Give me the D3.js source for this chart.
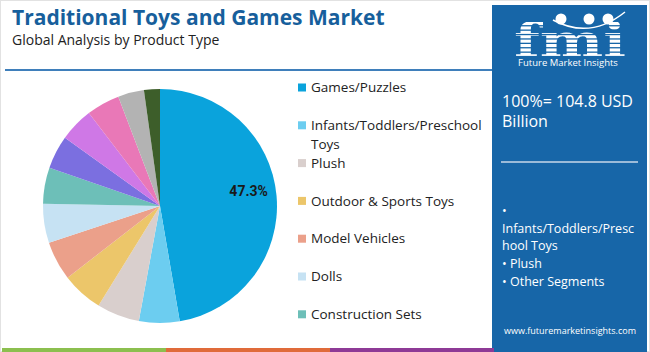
<!DOCTYPE html>
<html>
<head>
    <script src="https://cdn.jsdelivr.net/npm/d3@7"></script>
    <style>
        body {
            margin: 0;
            background-color: white;
        }

        svg {
            display: block;
            font-family: "Open Sans", sans-serif;
        }

        .title {
            font-size: 21px;
            font-weight: bold;
            fill: #175f9c;
        }

        .subtitle {
            font-size: 14px;
            fill: #222;
        }

        .legend text {
            font-size: 13.5px;
            fill: #222;
        }

        .panel text {
            fill: white;
        }
    </style>
</head>
<body>
    <div id="chart"></div>
    <script>
        const categories = ['Games/Puzzles', 'Infants/Toddlers/Preschool Toys', 'Plush', 'Outdoor & Sports Toys',
            'Model Vehicles', 'Dolls', 'Construction Sets', 'Action Figures', 'Arts & Crafts',
            'Educational Toys', 'Ride-Ons', 'Others']
        const shares = [47.3, 5.6, 5.9, 5.7, 5.4, 5.4, 5.0, 4.6, 4.7, 4.6, 3.6, 2.2]
        const palette = ['#0aa3dc', '#6ccdf0', '#d9cfcd', '#ecc66a', '#eba08a', '#c6e2f3', '#6dbfb8',
            '#7b6fe0', '#cf78e6', '#e978b7', '#b3b3b3', '#3d5e2a']
        const totalLines = ['100%= 104.8 USD', 'Billion']
        const topSegments = ['Infants/Toddlers/Preschool Toys', 'Plush', 'Other Segments']

        const w = 650
        const h = 352
        const radius = 117
        const cx = 160
        const cy = 206
        const legendBottom = 334

        const svg = d3.select('#chart')
            .append('svg')
            .attr('width', w)
            .attr('height', h)

        // frame
        svg.append('rect')
            .attr('x', 0.5).attr('y', 0.5)
            .attr('width', w - 1).attr('height', h - 1)
            .attr('fill', 'white')
            .attr('stroke', '#e2e2e2')

        svg.append('text')
            .attr('class', 'title')
            .attr('x', 12).attr('y', 24.5)
            .text('Traditional Toys and Games Market')
        svg.append('text')
            .attr('class', 'subtitle')
            .attr('x', 12).attr('y', 45)
            .text('Global Analysis by Product Type')

        svg.append('line')
            .attr('x1', 5).attr('x2', 492)
            .attr('y1', 70).attr('y2', 70)
            .attr('stroke', '#3f7fbb')
            .attr('stroke-width', 2)

        // pie
        const data = categories.map((c, i) => ({ name: c, value: shares[i] }))
        const color = d3.scaleOrdinal().domain(categories).range(palette)
        const pie = d3.pie().value(d => d.value).sort(null)
        const arc = d3.arc().innerRadius(0).outerRadius(radius)
        const labelArc = d3.arc().innerRadius(radius * 0.76).outerRadius(radius * 0.76)
        const arcs = pie(data)

        const g = svg.append('g')
            .attr('transform', `translate(${cx}, ${cy})`)
        g.selectAll('path')
            .data(arcs)
            .enter()
            .append('path')
            .attr('d', arc)
            .attr('fill', d => color(d.data.name))

        g.selectAll('text')
            .data(arcs.filter(d => d.data.value > 20))
            .enter()
            .append('text')
            .attr('transform', d => {
                const c = labelArc.centroid(d)
                return `translate(${c[0]}, ${c[1] - 7})`
            })
            .attr('text-anchor', 'middle')
            .attr('dy', '0.35em')
            .style('font-family', 'Roboto, sans-serif')
            .style('font-weight', 'bold')
            .style('font-size', '14px')
            .attr('fill', '#1a1a1a')
            .text(d => d.data.value.toFixed(1) + '%')

        // legend: only the entries that fit above the bottom, as in the original
        const step = 37.8
        const shown = categories.filter((d, i) => 87.5 + i * step < legendBottom)
        const legend = svg.append('g')
            .attr('class', 'legend')
        const items = legend.selectAll('g')
            .data(shown)
            .enter()
            .append('g')
            .attr('transform', (d, i) => `translate(298, ${87.5 + i * step})`)
        items.append('rect')
            .attr('x', 0).attr('y', -4)
            .attr('width', 8).attr('height', 8)
            .attr('fill', d => color(d))
        items.append('text')
            .attr('x', 13)
            .attr('dy', '0.35em')
            .each(function (d) { wrap(d3.select(this), d, 178, 19) })

        // right panel
        const panelColor = '#1766a8'
        const panel = svg.append('g').attr('class', 'panel')
        panel.append('rect')
            .attr('x', 492).attr('y', 5)
            .attr('width', 155).attr('height', h - 5)
            .attr('fill', panelColor)

        // fmi logo: white stripes cut out by the letter shapes
        const logoClip = svg.append('clipPath').attr('id', 'logoclip')
        logoClip.append('text')
            .attr('x', 514).attr('y', 57)
            .attr('textLength', 112)
            .attr('lengthAdjust', 'spacingAndGlyphs')
            .style('font-family', '"DejaVu Serif", serif')
            .style('font-weight', 'bold')
            .style('font-size', '46px')
            .text('fmi')
        const stripes = panel.append('g').attr('clip-path', 'url(#logoclip)')
        for (let y = 22; y < 58; y += 4.4) {
            stripes.append('rect')
                .attr('x', 510).attr('y', y)
                .attr('width', 120).attr('height', 3.1)
                .attr('fill', 'white')
        }
        panel.selectAll('circle.globe')
            .data([561, 589, 608])
            .enter()
            .append('circle')
            .attr('class', 'globe')
            .attr('cx', d => d).attr('cy', 19)
            .attr('r', 5.5)
            .attr('fill', 'white')
        panel.append('path')
            .attr('d', 'M553,20 Q590,40 625,12')
            .attr('fill', 'none')
            .attr('stroke', 'white')
            .attr('stroke-width', 1.5)
        panel.append('text')
            .attr('x', 568).attr('y', 66)
            .attr('text-anchor', 'middle')
            .style('font-size', '9.5px')
            .text('Future Market Insights')

        const total = panel.append('text')
            .attr('x', 502).attr('y', 107)
            .style('font-size', '16px')
        totalLines.forEach((l, i) => {
            total.append('tspan').attr('x', 502).attr('dy', i === 0 ? 0 : 20).text(l)
        })

        panel.append('line')
            .attr('x1', 501).attr('x2', 638)
            .attr('y1', 162).attr('y2', 162)
            .attr('stroke', '#c9d9ea')
            .attr('stroke-width', 1.5)

        const seg = panel.append('text')
            .attr('x', 502).attr('y', 215)
            .style('font-size', '12.5px')
        let lines = []
        topSegments.forEach(s => { lines = lines.concat(charWrap(seg, '• ' + s, 137)) })
        seg.text(null)
        lines.forEach((l, i) => {
            seg.append('tspan').attr('x', 502).attr('dy', i === 0 ? 0 : 17.7).text(l)
        })

        panel.append('text')
            .attr('x', 570).attr('y', 334)
            .attr('text-anchor', 'middle')
            .style('font-size', '9px')
            .text('www.futuremarketinsights.com')

        // bottom strip
        const strip = ['#8cbf4f', '#e06b3a', '#8e3a96']
        strip.forEach((c, i) => {
            svg.append('rect')
                .attr('x', 2 + i * 164).attr('y', 348)
                .attr('width', 164).attr('height', 4)
                .attr('fill', c)
        })

        function wrap(text, str, width, lh) {
            const words = str.split(' ')
            let line = []
            let tspan = text.append('tspan').attr('x', 13)
            words.forEach(wd => {
                line.push(wd)
                tspan.text(line.join(' '))
                if (tspan.node().getComputedTextLength() > width && line.length > 1) {
                    line.pop()
                    tspan.text(line.join(' '))
                    line = [wd]
                    tspan = text.append('tspan').attr('x', 13).attr('dy', lh).text(wd)
                }
            })
        }

        // greedy word wrap, breaking over-long words by character
        function charWrap(text, str, width) {
            const measure = s => { text.text(s); return text.node().getComputedTextLength() }
            const words = str.split(' ')
            const out = []
            let cur = ''
            words.forEach(wd => {
                const trial = cur ? cur + ' ' + wd : wd
                if (measure(trial) <= width) { cur = trial; return }
                if (cur) out.push(cur)
                cur = ''
                let rest = wd
                while (measure(rest) > width) {
                    let k = rest.length
                    while (k > 1 && measure(rest.slice(0, k)) > width) k--
                    out.push(rest.slice(0, k))
                    rest = rest.slice(k)
                }
                cur = rest
            })
            if (cur) out.push(cur)
            return out
        }
    </script>
</body>
</html>
